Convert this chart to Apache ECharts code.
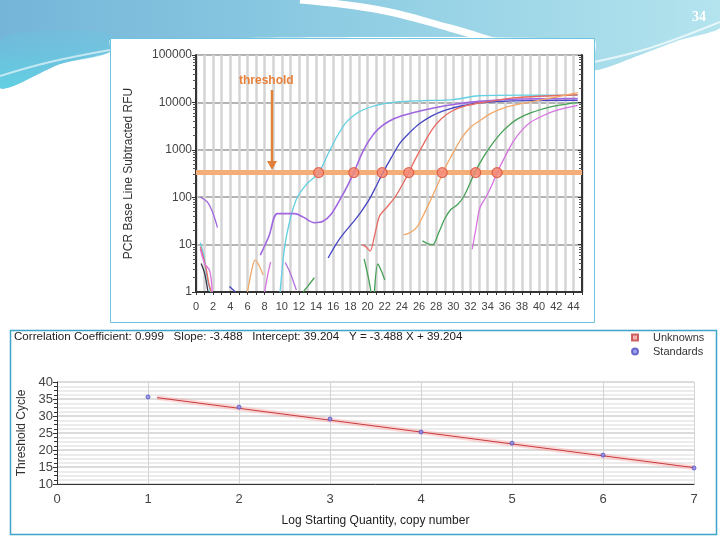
<!DOCTYPE html>
<html><head><meta charset="utf-8">
<script src="https://cdn.jsdelivr.net/npm/echarts@6/dist/echarts.min.js"></script>
<style>html,body{margin:0;padding:0;background:#fff}#c{width:720px;height:540px}</style>
</head><body><div id="c"></div>
<script>
// ---- Amplification plot data: [cycle, RFU] ----
const cyanCurve = [[9.8,1],[10.3,8],[10.8,25],[11.7,90],[12.8,180],[14.3,330],[15.5,900],[16.5,2000],[17.5,3800],[18.5,5500],[19.5,7000],[21,8700],[23,10000],[26,10800],[30,11500],[33,13800],[38,14200],[44.5,14000]];
const violetCurve = [[7.5,6],[8.5,15],[9.5,45],[11.5,45],[12.5,38],[13.8,29],[14.8,31],[15.8,45],[16.8,90],[17.7,180],[18.4,330],[19.3,800],[20.2,1600],[21.2,2700],[22.5,4000],[24,5200],[26,6500],[28,7800],[30,9000],[33,10500],[38,11800],[44.5,12000]];
const blueCurve = [[15.4,5.2],[16.3,10],[17.2,17],[18.2,28],[19.2,48],[20.2,90],[21,170],[21.8,330],[22.8,700],[23.8,1400],[24.9,2300],[26,3500],[27.5,5200],[29,6800],[31,8500],[33,9800],[37,10800],[44.5,11000]];
const redCurve = [[19.4,10],[19.8,9],[20.3,7.3],[20.8,15],[21.4,40],[22.2,60],[23.2,100],[24.1,190],[24.8,330],[25.6,650],[26.6,1400],[27.6,2800],[28.6,4500],[29.8,6500],[31.5,8500],[33.5,10000],[37,12500],[44.5,14500]];
const orangeCurve = [[24.2,16],[25,18],[25.8,24],[26.6,45],[27.5,100],[28.2,190],[28.8,330],[29.5,600],[30.3,1100],[31,1800],[32,3000],[33,4000],[34.5,6000],[36,7800],[38,9500],[41,12000],[44.5,16000]];
const greenCurve = [[26.4,12],[27,10.5],[27.6,10],[28.3,18],[29,35],[29.7,55],[30.5,70],[31.3,110],[32.5,330],[33.5,700],[34.5,1300],[35.5,2200],[36.5,3300],[37.5,4500],[39,6000],[41,7800],[44.5,10000]];
const magentaCurve = [[32.2,8],[32.6,20],[33.1,60],[33.8,100],[34.5,180],[35.1,330],[36,700],[37,1500],[38,2600],[39,3800],[40.5,5300],[42,6800],[44.5,8700]];
// baseline noise fragments
const violetNoiseA = [[0.5,100],[1.3,80],[1.8,55],[2.2,35],[2.5,23]];
const cyanNoise = [[0.5,11],[0.9,6],[1.3,2],[1.7,1]];
const redNoise = [[0.5,9],[0.9,5],[1.2,3],[1.5,1.5],[1.8,1]];
const darkNoise = [[0.6,4],[1,2.5],[1.4,1]];
const magentaNoiseA = [[0.5,8],[1,4],[1.6,2.8],[1.9,1]];
const blueNoise = [[3.9,1.3],[4.6,1]];
const orangeNoise = [[6,1],[6.6,3.5],[6.9,4.7],[7.4,3.5],[7.8,2.3]];
const magentaNoiseB = [[8,1],[8.4,2.5],[8.7,4.3]];
const violetNoiseB = [[10.4,4.2],[11,2.5],[11.7,1.1]];
const greenNoiseA = [[12.5,1],[13,1.3],[13.8,2]];
const greenNoiseB = [[19.6,5],[20.1,2],[20.4,1]];
const greenNoiseC = [[20.8,1],[21.2,3.9],[21.6,2.8],[22,1.8]];
const threshold = 330;
const ctValues = [14.3, 18.4, 21.7, 24.8, 28.7, 32.6, 35.1];

// ---- Standard curve data ----
const logQuantity = [1, 2, 3, 4, 5, 6, 7];
const standardCt = [35.6, 32.6, 29.1, 25.3, 22.0, 18.5, 14.7];
const fitLine = [[1.1, 35.4], [7, 14.8]];
const statsText = 'Correlation Coefficient: 0.999   Slope: -3.488   Intercept: 39.204   Y = -3.488 X + 39.204';

const chart = echarts.init(document.getElementById('c'), null, {renderer: 'canvas'});
const F = 'Liberation Sans, Arial, sans-serif';

function curve(data, color, w) {
  return {type: 'line', xAxisIndex: 0, yAxisIndex: 0, data: data, showSymbol: false, smooth: 0.3,
    lineStyle: {color: color, width: w || 1.3}, silent: true, z: 3};
}

const series = [
  {type: 'line', xAxisIndex: 0, yAxisIndex: 0, data: [[0, threshold], [45, threshold]], showSymbol: false,
    lineStyle: {color: '#f5ad78', width: 5}, z: 2, silent: true},
  curve(cyanCurve, '#62cfe2'), curve(violetCurve, '#a066e0', 1.6), curve(blueCurve, '#4646c4'),
  curve(redCurve, '#e86a62'), curve(orangeCurve, '#f2a868'), curve(greenCurve, '#46a056'),
  curve(magentaCurve, '#d874e2'),
  curve(violetNoiseA, '#a066e0'), curve(cyanNoise, '#62cfe2'), curve(redNoise, '#e86a62'),
  curve(darkNoise, '#334'), curve(magentaNoiseA, '#d874e2'), curve(blueNoise, '#4646c4'),
  curve(orangeNoise, '#f2a868'), curve(magentaNoiseB, '#d874e2'), curve(violetNoiseB, '#b070e0'),
  curve(greenNoiseA, '#46a056'), curve(greenNoiseB, '#46a056'), curve(greenNoiseC, '#46a056'),
  {type: 'scatter', xAxisIndex: 0, yAxisIndex: 0, data: ctValues.map(c => [c, threshold]),
    symbol: 'circle', symbolSize: 10, itemStyle: {color: '#f48a78', borderColor: '#e0503a', borderWidth: 1.2}, z: 5, silent: true},
  // standard curve
  {type: 'line', xAxisIndex: 1, yAxisIndex: 2, data: fitLine, showSymbol: false,
    lineStyle: {color: 'rgba(255,150,150,0.35)', width: 5}, silent: true, z: 2},
  {type: 'line', xAxisIndex: 1, yAxisIndex: 2, data: fitLine, showSymbol: false,
    lineStyle: {color: '#c83a3a', width: 1}, silent: true, z: 3},
  {name: 'Unknowns', type: 'scatter', xAxisIndex: 1, yAxisIndex: 2, data: [], symbol: 'rect',
    itemStyle: {color: '#f0a0a0', borderColor: '#c04040', borderWidth: 1}},
  {name: 'Standards', type: 'scatter', xAxisIndex: 1, yAxisIndex: 2,
    data: logQuantity.map((q, i) => [q, standardCt[i]]), symbol: 'circle', symbolSize: 4,
    itemStyle: {color: '#8a8ae8', borderColor: '#5050c0', borderWidth: 1}, z: 4, silent: true}
];

const option = {
  backgroundColor: '#ffffff',
  animation: false,
  textStyle: {fontFamily: F},
  graphic: [
    {type: 'rect', z: -20, shape: {x: 0, y: 0, width: 720, height: 540}, style: {fill: '#ffffff'}},
    {type: 'polygon', z: -19, shape: {points: [[0,0],[720,0],[720,28],[680,40],[640,55],[594,70],[594,40],[110,40],[110,52],[60,64],[0,88]], smooth: 0.2},
      style: {fill: new echarts.graphic.LinearGradient(0, 0, 1, 0, [{offset: 0, color: '#74b4d8'}, {offset: 0.45, color: '#8ccbe2'}, {offset: 1, color: '#b4e4ee'}])}},
    {type: 'polygon', z: -18, shape: {points: [[0,40],[60,30],[110,34],[110,52],[60,64],[0,88]], smooth: 0.3},
      style: {fill: new echarts.graphic.LinearGradient(0, 0, 0, 1, [{offset: 0, color: 'rgba(100,200,225,0.2)'}, {offset: 1, color: '#62d0e2'}])}},
    {type: 'polyline', z: -17, shape: {points: [[300,0],[380,10],[450,28],[520,48],[594,62]], smooth: 0.4},
      style: {stroke: '#ffffff', lineWidth: 7, fill: null}},
    {type: 'polyline', z: -17, shape: {points: [[594,62],[650,48],[720,22]], smooth: 0.4},
      style: {stroke: 'rgba(255,255,255,0.7)', lineWidth: 2, fill: null}},
    {type: 'polyline', z: -17, shape: {points: [[0,76],[50,62],[110,50]], smooth: 0.4},
      style: {stroke: 'rgba(255,255,255,0.6)', lineWidth: 2, fill: null}},
    {type: 'text', z: 10, style: {text: '34', x: 692, y: 10, fill: '#ffffff', font: 'bold 14px "Liberation Serif", serif'}},
    // panels
    {type: 'rect', z: -10, shape: {x: 110.5, y: 38.5, width: 484, height: 284}, style: {fill: '#ffffff', stroke: '#6cc4de', lineWidth: 1}},
    {type: 'rect', z: -10, shape: {x: 10.5, y: 330.5, width: 706, height: 204}, style: {fill: '#ffffff', stroke: '#3ea4c8', lineWidth: 1.5}},
    // threshold annotation
    {type: 'text', z: 10, style: {text: 'threshold', x: 239, y: 75, fill: '#e8803a', font: 'bold 12px ' + F}},
    {type: 'line', z: 10, shape: {x1: 272, y1: 90, x2: 272, y2: 162}, style: {stroke: '#e0803a', lineWidth: 2.5}},
    {type: 'polygon', z: 10, shape: {points: [[267,161],[277,161],[272,170]]}, style: {fill: '#e0803a'}},
    {type: 'text', z: 10, style: {text: statsText, x: 14, y: 331, fill: '#222', font: '11.6px ' + F}}
  ],
  legend: {
    data: ['Unknowns', 'Standards'], orient: 'vertical', left: 626, top: 327, itemWidth: 6, itemHeight: 6,
    itemGap: 3, textStyle: {fontSize: 11, color: '#333', padding: [0, 0, 0, 10]}, selectedMode: false
  },
  grid: [
    {left: 196, right: 138, top: 55, bottom: 248, show: true, borderColor: '#555', borderWidth: 1, backgroundColor: 'transparent'},
    {left: 57, right: 26, top: 382, bottom: 56}
  ],
  xAxis: [
    {gridIndex: 0, type: 'value', min: 0, max: 45, interval: 1,
      axisLine: {lineStyle: {color: '#333', width: 2}}, axisTick: {show: true, length: 3, lineStyle: {color: '#333'}},
      axisLabel: {fontSize: 11, color: '#444', margin: 9, formatter: v => (v % 2 === 0 && v <= 44) ? String(v) : ''},
      splitLine: {show: true, lineStyle: {color: '#d4d4d4', width: 2.5}}},
    {gridIndex: 1, type: 'value', min: 0, max: 7, interval: 1,
      axisLine: {onZero: false, lineStyle: {color: '#333', width: 1}}, axisTick: {show: false},
      axisLabel: {fontSize: 13, color: '#444', margin: 9},
      splitLine: {show: true, lineStyle: {color: '#d4d4d4', width: 1}},
      name: 'Log Starting Quantity, copy number', nameLocation: 'middle', nameGap: 31,
      nameTextStyle: {fontSize: 12, color: '#222'}}
  ],
  yAxis: [
    {gridIndex: 0, type: 'log', logBase: 10, min: 1, max: 100000,
      axisLine: {show: true, lineStyle: {color: '#333', width: 2}},
      axisTick: {show: true, length: 4, lineStyle: {color: '#333'}},
      minorTick: {show: true, splitNumber: 9, length: 3, lineStyle: {color: '#555'}},
      axisLabel: {fontSize: 12, color: '#444', margin: 4, formatter: v => String(Math.round(v))},
      splitLine: {show: true, lineStyle: {color: '#b4b4b4', width: 2}},
      name: 'PCR Base Line Subtracted RFU', nameLocation: 'middle', nameGap: 61, nameRotate: 90,
      nameTextStyle: {fontSize: 12, color: '#333'}},
    {gridIndex: 0, type: 'log', logBase: 10, min: 1, max: 100000, position: 'right',
      axisLine: {show: true, lineStyle: {color: '#333', width: 2}},
      axisTick: {show: true, inside: true, length: 4, lineStyle: {color: '#333'}},
      minorTick: {show: true, splitNumber: 9, length: 3, lineStyle: {color: '#555'}},
      axisLabel: {show: false}, splitLine: {show: false}},
    {gridIndex: 1, type: 'value', min: 10, max: 40, interval: 5,
      axisLine: {show: true, lineStyle: {color: '#333', width: 1}},
      axisTick: {show: true, length: 4, lineStyle: {color: '#333'}},
      minorTick: {show: true, splitNumber: 4, length: 3, lineStyle: {color: '#333'}},
      minorSplitLine: {show: true, lineStyle: {color: '#e6e6e6', width: 1.5}},
      axisLabel: {fontSize: 13, color: '#444', margin: 4},
      splitLine: {show: true, lineStyle: {color: '#d0d0d0', width: 1.5}},
      name: 'Threshold Cycle', nameLocation: 'middle', nameGap: 26, nameRotate: 90,
      nameTextStyle: {fontSize: 12, color: '#333'}}
  ],
  series: series
};
chart.setOption(option);
</script></body></html>
